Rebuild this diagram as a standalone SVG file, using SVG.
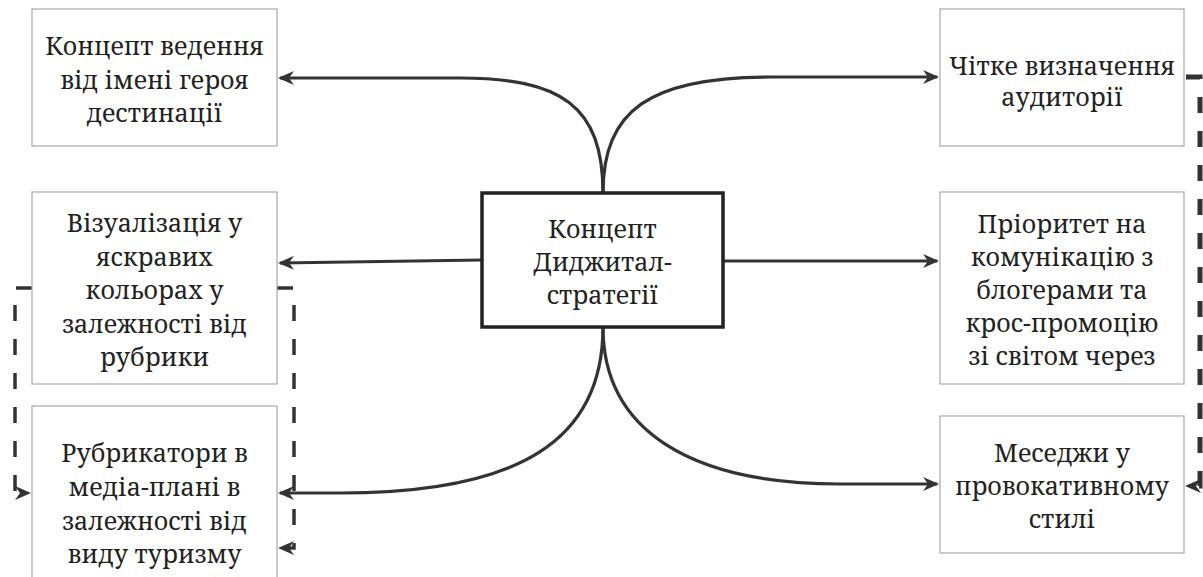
<svg xmlns="http://www.w3.org/2000/svg" width="1203" height="577" viewBox="0 0 1203 577">
<style>
.box{fill:#fff;stroke:#a8a8a8;stroke-width:1.2}
.core{fill:#fff;stroke:#222;stroke-width:3.5}
.t{font-family:'Noto Serif','DejaVu Serif',serif;font-size:25px;fill:#222;text-anchor:middle}
.c{fill:none;stroke:#333;stroke-width:3.2}
.d{fill:none;stroke:#333;stroke-width:3.5;stroke-dasharray:16 18}
.d2{fill:none;stroke:#333;stroke-width:5;stroke-dasharray:16 18}
</style>
<defs>
<marker id="ah" markerUnits="userSpaceOnUse" markerWidth="16" markerHeight="14" refX="14" refY="7" orient="auto" viewBox="0 0 16 14">
<path d="M0,0 L16,7 L0,14 L5,7 z" fill="#333"/>
</marker>
</defs>
<g id="connectors">
<path class="c" d="M603,193 C603,105 560,78 460,78 L280,78" marker-end="url(#ah)"/>
<path class="c" d="M603,193 C603,110 650,77 770,77 L937,77" marker-end="url(#ah)"/>
<path class="c" d="M482,260 L280,263" marker-end="url(#ah)"/>
<path class="c" d="M723,261 L937,261" marker-end="url(#ah)"/>
<path class="c" d="M603,327 C603,440 520,493 340,493 L280,493" marker-end="url(#ah)"/>
<path class="c" d="M603,327 C603,430 690,484 840,484 L937,484" marker-end="url(#ah)"/>
<path class="d" d="M32,288 L15,288 L15,493 L29,493" marker-end="url(#ah)"/>
<path class="d" d="M277,288 L294,288 L294,548 L280,548" marker-end="url(#ah)"/>
<path class="d2" d="M1186,77 L1200,77 L1200,486 L1187,486" marker-end="url(#ah)"/>
</g>
<g id="n1">
<rect class="box" x="32" y="9" width="245" height="137"/>
<text class="t" x="154.5" y="55">Концепт ведення</text>
<text class="t" x="154.5" y="89">від імені героя</text>
<text class="t" x="154.5" y="122">дестинації</text>
</g>
<g id="n2">
<rect class="box" x="32" y="192" width="245" height="192"/>
<text class="t" x="154.5" y="232">Візуалізація у</text>
<text class="t" x="154.5" y="265.5">яскравих</text>
<text class="t" x="154.5" y="299">кольорах у</text>
<text class="t" x="154.5" y="332.5">залежності від</text>
<text class="t" x="154.5" y="366">рубрики</text>
</g>
<g id="n3">
<rect class="box" x="32" y="406" width="245" height="180"/>
<text class="t" x="154.5" y="462">Рубрикатори в</text>
<text class="t" x="154.5" y="496">медіа-плані в</text>
<text class="t" x="154.5" y="530">залежності від</text>
<text class="t" x="154.5" y="563">виду туризму</text>
</g>
<g id="center">
<rect class="core" x="482" y="193" width="241" height="134"/>
<text class="t" x="602.5" y="238">Концепт</text>
<text class="t" x="602.5" y="271">Диджитал-</text>
<text class="t" x="602.5" y="304">стратегії</text>
</g>
<g id="n4">
<rect class="box" x="940" y="9" width="244" height="137"/>
<text class="t" x="1062" y="75">Чітке визначення</text>
<text class="t" x="1062" y="106">аудиторії</text>
</g>
<g id="n5">
<rect class="box" x="940" y="192" width="244" height="192"/>
<text class="t" x="1062" y="233">Пріоритет на</text>
<text class="t" x="1062" y="266">комунікацію з</text>
<text class="t" x="1062" y="299">блогерами та</text>
<text class="t" x="1062" y="332">крос-промоцію</text>
<text class="t" x="1062" y="365">зі світом через</text>
</g>
<g id="n6">
<rect class="box" x="940" y="416" width="244" height="137"/>
<text class="t" x="1062" y="462">Меседжи у</text>
<text class="t" x="1062" y="495">провокативному</text>
<text class="t" x="1062" y="528">стилі</text>
</g>
</svg>
